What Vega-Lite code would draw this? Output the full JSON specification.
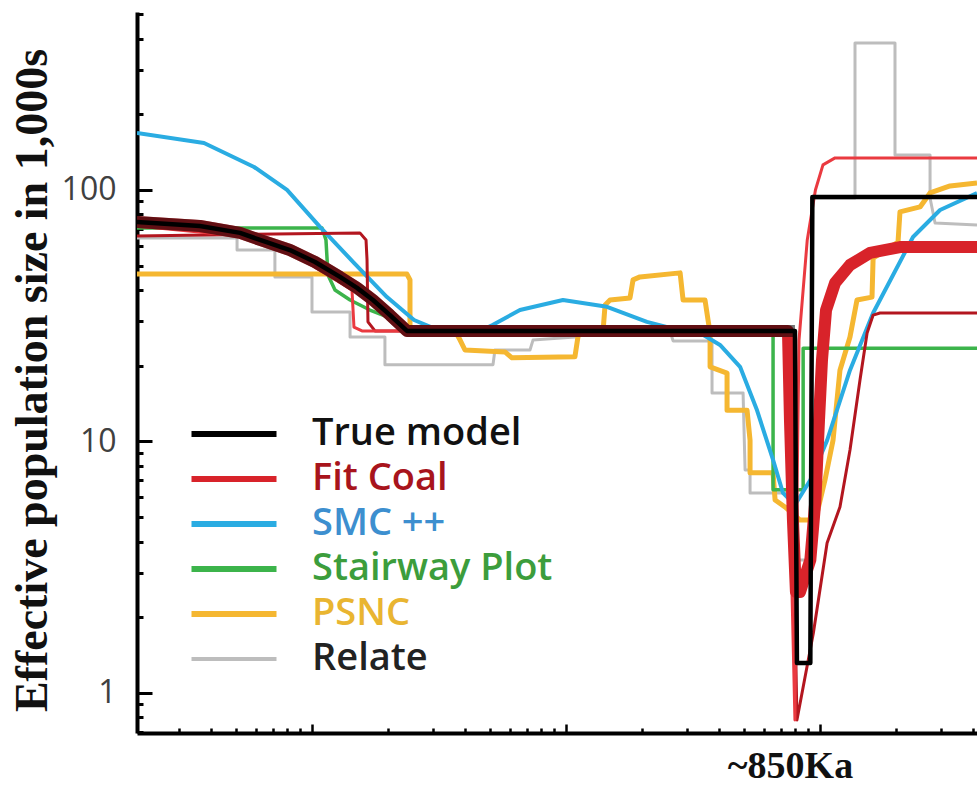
{
  "$schema": "https://vega.github.io/schema/vega-lite/v6.json",
  "width": 840,
  "height": 721,
  "autosize": {"type": "none"},
  "padding": {"left": 137, "top": 12, "right": 0, "bottom": 53},
  "background": "white",
  "config": {"view": {"stroke": null}, "axis": {"grid": false}},
  "data": {
    "values": [
      {"method": "True model", "run": 1, "step": 1, "years": 2047, "ne": 74.6},
      {"method": "True model", "run": 1, "step": 2, "years": 3622, "ne": 71.9},
      {"method": "True model", "run": 1, "step": 3, "years": 5210, "ne": 67.5},
      {"method": "True model", "run": 1, "step": 4, "years": 6241, "ne": 63.3},
      {"method": "True model", "run": 1, "step": 5, "years": 8188, "ne": 57.7},
      {"method": "True model", "run": 1, "step": 6, "years": 10280, "ne": 51.7},
      {"method": "True model", "run": 1, "step": 7, "years": 12890, "ne": 45.1},
      {"method": "True model", "run": 1, "step": 8, "years": 15040, "ne": 40.8},
      {"method": "True model", "run": 1, "step": 9, "years": 17380, "ne": 36.5},
      {"method": "True model", "run": 1, "step": 10, "years": 20280, "ne": 31.8},
      {"method": "True model", "run": 1, "step": 11, "years": 23650, "ne": 27.5},
      {"method": "True model", "run": 1, "step": 12, "years": 796600, "ne": 27.5},
      {"method": "True model", "run": 1, "step": 13, "years": 811100, "ne": 1.316},
      {"method": "True model", "run": 1, "step": 14, "years": 915800, "ne": 1.316},
      {"method": "True model", "run": 1, "step": 15, "years": 932900, "ne": 93.8},
      {"method": "True model", "run": 1, "step": 16, "years": 4149000, "ne": 93.8},

      {"method": "Fit Coal", "run": 1, "step": 1, "years": 2047, "ne": 74.6},
      {"method": "Fit Coal", "run": 1, "step": 2, "years": 3622, "ne": 71.9},
      {"method": "Fit Coal", "run": 1, "step": 3, "years": 5210, "ne": 67.5},
      {"method": "Fit Coal", "run": 1, "step": 4, "years": 6241, "ne": 63.3},
      {"method": "Fit Coal", "run": 1, "step": 5, "years": 8188, "ne": 57.7},
      {"method": "Fit Coal", "run": 1, "step": 6, "years": 10280, "ne": 51.7},
      {"method": "Fit Coal", "run": 1, "step": 7, "years": 12890, "ne": 45.1},
      {"method": "Fit Coal", "run": 1, "step": 8, "years": 15040, "ne": 40.8},
      {"method": "Fit Coal", "run": 1, "step": 9, "years": 17380, "ne": 36.5},
      {"method": "Fit Coal", "run": 1, "step": 10, "years": 20280, "ne": 31.8},
      {"method": "Fit Coal", "run": 1, "step": 11, "years": 23650, "ne": 27.5},
      {"method": "Fit Coal", "run": 1, "step": 12, "years": 747800, "ne": 27.5},
      {"method": "Fit Coal", "run": 1, "step": 13, "years": 761400, "ne": 12.2},
      {"method": "Fit Coal", "run": 1, "step": 14, "years": 782300, "ne": 4.87},
      {"method": "Fit Coal", "run": 1, "step": 15, "years": 803800, "ne": 2.52},
      {"method": "Fit Coal", "run": 1, "step": 16, "years": 834300, "ne": 2.52},
      {"method": "Fit Coal", "run": 1, "step": 17, "years": 915800, "ne": 3.38},
      {"method": "Fit Coal", "run": 1, "step": 18, "years": 959100, "ne": 5.85},
      {"method": "Fit Coal", "run": 1, "step": 19, "years": 990900, "ne": 12.2},
      {"method": "Fit Coal", "run": 1, "step": 20, "years": 1018000, "ne": 21.1},
      {"method": "Fit Coal", "run": 1, "step": 21, "years": 1056000, "ne": 33.3},
      {"method": "Fit Coal", "run": 1, "step": 22, "years": 1146000, "ne": 42.7},
      {"method": "Fit Coal", "run": 1, "step": 23, "years": 1312000, "ne": 50.3},
      {"method": "Fit Coal", "run": 1, "step": 24, "years": 1574000, "ne": 56.2},
      {"method": "Fit Coal", "run": 1, "step": 25, "years": 2064000, "ne": 59.3},
      {"method": "Fit Coal", "run": 1, "step": 26, "years": 4149000, "ne": 59.3},

      {"method": "Fit Coal", "run": 2, "step": 1, "years": 2047, "ne": 65.6},
      {"method": "Fit Coal", "run": 2, "step": 2, "years": 15440, "ne": 67.5},
      {"method": "Fit Coal", "run": 2, "step": 3, "years": 16320, "ne": 63.3},
      {"method": "Fit Coal", "run": 2, "step": 4, "years": 16470, "ne": 52.7},
      {"method": "Fit Coal", "run": 2, "step": 5, "years": 16610, "ne": 29.9},
      {"method": "Fit Coal", "run": 2, "step": 6, "years": 17700, "ne": 27.5},
      {"method": "Fit Coal", "run": 2, "step": 7, "years": 761400, "ne": 27.5},
      {"method": "Fit Coal", "run": 2, "step": 8, "years": 811100, "ne": 0.781},
      {"method": "Fit Coal", "run": 2, "step": 9, "years": 941400, "ne": 1.732},
      {"method": "Fit Coal", "run": 2, "step": 10, "years": 1066000, "ne": 3.95},
      {"method": "Fit Coal", "run": 2, "step": 11, "years": 1198000, "ne": 5.49},
      {"method": "Fit Coal", "run": 2, "step": 12, "years": 1312000, "ne": 9.25},
      {"method": "Fit Coal", "run": 2, "step": 13, "years": 1437000, "ne": 17.6},
      {"method": "Fit Coal", "run": 2, "step": 14, "years": 1532000, "ne": 27.0},
      {"method": "Fit Coal", "run": 2, "step": 15, "years": 1618000, "ne": 31.8},
      {"method": "Fit Coal", "run": 2, "step": 16, "years": 1722000, "ne": 32.4},
      {"method": "Fit Coal", "run": 2, "step": 17, "years": 4149000, "ne": 32.4},

      {"method": "Fit Coal", "run": 3, "step": 1, "years": 2047, "ne": 71.9},
      {"method": "Fit Coal", "run": 3, "step": 2, "years": 5210, "ne": 65.6},
      {"method": "Fit Coal", "run": 3, "step": 3, "years": 8970, "ne": 53.6},
      {"method": "Fit Coal", "run": 3, "step": 4, "years": 14370, "ne": 40.0},
      {"method": "Fit Coal", "run": 3, "step": 5, "years": 14630, "ne": 28.5},
      {"method": "Fit Coal", "run": 3, "step": 6, "years": 15730, "ne": 27.5},
      {"method": "Fit Coal", "run": 3, "step": 7, "years": 734400, "ne": 27.5},
      {"method": "Fit Coal", "run": 3, "step": 8, "years": 796600, "ne": 0.781},
      {"method": "Fit Coal", "run": 3, "step": 9, "years": 811100, "ne": 5.85},
      {"method": "Fit Coal", "run": 3, "step": 10, "years": 826500, "ne": 25.3},
      {"method": "Fit Coal", "run": 3, "step": 11, "years": 890700, "ne": 63.3},
      {"method": "Fit Coal", "run": 3, "step": 12, "years": 959100, "ne": 100},
      {"method": "Fit Coal", "run": 3, "step": 13, "years": 1027000, "ne": 125.8},
      {"method": "Fit Coal", "run": 3, "step": 14, "years": 1146000, "ne": 134.1},
      {"method": "Fit Coal", "run": 3, "step": 15, "years": 4149000, "ne": 134.1},

      {"method": "SMC ++", "run": 1, "step": 1, "years": 2047, "ne": 168.5},
      {"method": "SMC ++", "run": 1, "step": 2, "years": 3757, "ne": 153.8},
      {"method": "SMC ++", "run": 1, "step": 3, "years": 5916, "ne": 123.4},
      {"method": "SMC ++", "run": 1, "step": 4, "years": 7975, "ne": 100},
      {"method": "SMC ++", "run": 1, "step": 5, "years": 10751, "ne": 71.3},
      {"method": "SMC ++", "run": 1, "step": 6, "years": 14630, "ne": 51.3},
      {"method": "SMC ++", "run": 1, "step": 7, "years": 19730, "ne": 37.5},
      {"method": "SMC ++", "run": 1, "step": 8, "years": 25220, "ne": 30.4},
      {"method": "SMC ++", "run": 1, "step": 9, "years": 31920, "ne": 27.5},
      {"method": "SMC ++", "run": 1, "step": 10, "years": 45840, "ne": 27.5},
      {"method": "SMC ++", "run": 1, "step": 11, "years": 51600, "ne": 29.1},
      {"method": "SMC ++", "run": 1, "step": 12, "years": 65870, "ne": 33.3},
      {"method": "SMC ++", "run": 1, "step": 13, "years": 97270, "ne": 36.5},
      {"method": "SMC ++", "run": 1, "step": 14, "years": 145000, "ne": 34.3},
      {"method": "SMC ++", "run": 1, "step": 15, "years": 208300, "ne": 29.9},
      {"method": "SMC ++", "run": 1, "step": 16, "years": 273700, "ne": 27.8},
      {"method": "SMC ++", "run": 1, "step": 17, "years": 337300, "ne": 27.0},
      {"method": "SMC ++", "run": 1, "step": 18, "years": 403900, "ne": 24.2},
      {"method": "SMC ++", "run": 1, "step": 19, "years": 484400, "ne": 19.8},
      {"method": "SMC ++", "run": 1, "step": 20, "years": 565000, "ne": 13.3},
      {"method": "SMC ++", "run": 1, "step": 21, "years": 653300, "ne": 8.44},
      {"method": "SMC ++", "run": 1, "step": 22, "years": 714800, "ne": 6.24},
      {"method": "SMC ++", "run": 1, "step": 23, "years": 796600, "ne": 5.59},
      {"method": "SMC ++", "run": 1, "step": 24, "years": 915800, "ne": 7.03},
      {"method": "SMC ++", "run": 1, "step": 25, "years": 1066000, "ne": 10.1},
      {"method": "SMC ++", "run": 1, "step": 26, "years": 1312000, "ne": 19.2},
      {"method": "SMC ++", "run": 1, "step": 27, "years": 1618000, "ne": 32.4},
      {"method": "SMC ++", "run": 1, "step": 28, "years": 2323000, "ne": 65.0},
      {"method": "SMC ++", "run": 1, "step": 29, "years": 2968000, "ne": 83.2},
      {"method": "SMC ++", "run": 1, "step": 30, "years": 4149000, "ne": 97.3},

      {"method": "Stairway Plot", "run": 1, "step": 1, "years": 2047, "ne": 70.6},
      {"method": "Stairway Plot", "run": 1, "step": 2, "years": 10950, "ne": 70.6},
      {"method": "Stairway Plot", "run": 1, "step": 3, "years": 11350, "ne": 63.3},
      {"method": "Stairway Plot", "run": 1, "step": 4, "years": 11560, "ne": 45.9},
      {"method": "Stairway Plot", "run": 1, "step": 5, "years": 12320, "ne": 40.0},
      {"method": "Stairway Plot", "run": 1, "step": 6, "years": 14120, "ne": 36.5},
      {"method": "Stairway Plot", "run": 1, "step": 7, "years": 16910, "ne": 33.3},
      {"method": "Stairway Plot", "run": 1, "step": 8, "years": 20280, "ne": 31.0},
      {"method": "Stairway Plot", "run": 1, "step": 9, "years": 23650, "ne": 27.5},
      {"method": "Stairway Plot", "run": 1, "step": 10, "years": 653300, "ne": 27.5},
      {"method": "Stairway Plot", "run": 1, "step": 11, "years": 653300, "ne": 6.42},
      {"method": "Stairway Plot", "run": 1, "step": 12, "years": 858100, "ne": 6.42},
      {"method": "Stairway Plot", "run": 1, "step": 13, "years": 858100, "ne": 23.5},
      {"method": "Stairway Plot", "run": 1, "step": 14, "years": 4149000, "ne": 23.5},

      {"method": "PSNC", "run": 1, "step": 1, "years": 2047, "ne": 46.3},
      {"method": "PSNC", "run": 1, "step": 2, "years": 23650, "ne": 46.3},
      {"method": "PSNC", "run": 1, "step": 3, "years": 24310, "ne": 43.9},
      {"method": "PSNC", "run": 1, "step": 4, "years": 24310, "ne": 27.5},
      {"method": "PSNC", "run": 1, "step": 5, "years": 36560, "ne": 27.5},
      {"method": "PSNC", "run": 1, "step": 6, "years": 38290, "ne": 25.3},
      {"method": "PSNC", "run": 1, "step": 7, "years": 40020, "ne": 23.1},
      {"method": "PSNC", "run": 1, "step": 8, "years": 57500, "ne": 22.7},
      {"method": "PSNC", "run": 1, "step": 9, "years": 61260, "ne": 21.5},
      {"method": "PSNC", "run": 1, "step": 10, "years": 108400, "ne": 21.7},
      {"method": "PSNC", "run": 1, "step": 11, "years": 111400, "ne": 26.0},
      {"method": "PSNC", "run": 1, "step": 12, "years": 113500, "ne": 27.5},
      {"method": "PSNC", "run": 1, "step": 13, "years": 139900, "ne": 27.5},
      {"method": "PSNC", "run": 1, "step": 14, "years": 142500, "ne": 34.9},
      {"method": "PSNC", "run": 1, "step": 15, "years": 149000, "ne": 36.5},
      {"method": "PSNC", "run": 1, "step": 16, "years": 178600, "ne": 37.2},
      {"method": "PSNC", "run": 1, "step": 17, "years": 183600, "ne": 43.9},
      {"method": "PSNC", "run": 1, "step": 18, "years": 195500, "ne": 45.1},
      {"method": "PSNC", "run": 1, "step": 19, "years": 281300, "ne": 46.8},
      {"method": "PSNC", "run": 1, "step": 20, "years": 289000, "ne": 36.5},
      {"method": "PSNC", "run": 1, "step": 21, "years": 352600, "ne": 36.5},
      {"method": "PSNC", "run": 1, "step": 22, "years": 362400, "ne": 30.4},
      {"method": "PSNC", "run": 1, "step": 23, "years": 369100, "ne": 27.0},
      {"method": "PSNC", "run": 1, "step": 24, "years": 369100, "ne": 19.8},
      {"method": "PSNC", "run": 1, "step": 25, "years": 430500, "ne": 18.7},
      {"method": "PSNC", "run": 1, "step": 26, "years": 430500, "ne": 13.3},
      {"method": "PSNC", "run": 1, "step": 27, "years": 516100, "ne": 13.3},
      {"method": "PSNC", "run": 1, "step": 28, "years": 530300, "ne": 10.1},
      {"method": "PSNC", "run": 1, "step": 29, "years": 530300, "ne": 7.5},
      {"method": "PSNC", "run": 1, "step": 30, "years": 653300, "ne": 7.5},
      {"method": "PSNC", "run": 1, "step": 31, "years": 665400, "ne": 5.85},
      {"method": "PSNC", "run": 1, "step": 32, "years": 727800, "ne": 5.49},
      {"method": "PSNC", "run": 1, "step": 33, "years": 834300, "ne": 4.87},
      {"method": "PSNC", "run": 1, "step": 34, "years": 959100, "ne": 4.87},
      {"method": "PSNC", "run": 1, "step": 35, "years": 1046000, "ne": 7.03},
      {"method": "PSNC", "run": 1, "step": 36, "years": 1125000, "ne": 10.1},
      {"method": "PSNC", "run": 1, "step": 37, "years": 1198000, "ne": 19.2},
      {"method": "PSNC", "run": 1, "step": 38, "years": 1312000, "ne": 26.0},
      {"method": "PSNC", "run": 1, "step": 39, "years": 1398000, "ne": 36.5},
      {"method": "PSNC", "run": 1, "step": 40, "years": 1602000, "ne": 37.5},
      {"method": "PSNC", "run": 1, "step": 41, "years": 1618000, "ne": 53.6},
      {"method": "PSNC", "run": 1, "step": 42, "years": 2028000, "ne": 62.1},
      {"method": "PSNC", "run": 1, "step": 43, "years": 2064000, "ne": 81.8},
      {"method": "PSNC", "run": 1, "step": 44, "years": 2476000, "ne": 85.6},
      {"method": "PSNC", "run": 1, "step": 45, "years": 2711000, "ne": 97.3},
      {"method": "PSNC", "run": 1, "step": 46, "years": 3250000, "ne": 103.7},
      {"method": "PSNC", "run": 1, "step": 47, "years": 4149000, "ne": 106.6},

      {"method": "Relate", "run": 1, "step": 1, "years": 2047, "ne": 64.4},
      {"method": "Relate", "run": 1, "step": 2, "years": 5070, "ne": 64.4},
      {"method": "Relate", "run": 1, "step": 3, "years": 5070, "ne": 57.7},
      {"method": "Relate", "run": 1, "step": 4, "years": 7145, "ne": 57.7},
      {"method": "Relate", "run": 1, "step": 5, "years": 7145, "ne": 45.1},
      {"method": "Relate", "run": 1, "step": 6, "years": 10000, "ne": 45.1},
      {"method": "Relate", "run": 1, "step": 7, "years": 10000, "ne": 32.7},
      {"method": "Relate", "run": 1, "step": 8, "years": 14120, "ne": 32.7},
      {"method": "Relate", "run": 1, "step": 9, "years": 14120, "ne": 26.0},
      {"method": "Relate", "run": 1, "step": 10, "years": 19370, "ne": 26.0},
      {"method": "Relate", "run": 1, "step": 11, "years": 19370, "ne": 20.2},
      {"method": "Relate", "run": 1, "step": 12, "years": 51600, "ne": 20.2},
      {"method": "Relate", "run": 1, "step": 13, "years": 52500, "ne": 23.1},
      {"method": "Relate", "run": 1, "step": 14, "years": 72140, "ne": 23.1},
      {"method": "Relate", "run": 1, "step": 15, "years": 74140, "ne": 25.3},
      {"method": "Relate", "run": 1, "step": 16, "years": 108400, "ne": 26.0},
      {"method": "Relate", "run": 1, "step": 17, "years": 113500, "ne": 27.5},
      {"method": "Relate", "run": 1, "step": 18, "years": 256700, "ne": 27.5},
      {"method": "Relate", "run": 1, "step": 19, "years": 263900, "ne": 25.1},
      {"method": "Relate", "run": 1, "step": 20, "years": 375700, "ne": 25.1},
      {"method": "Relate", "run": 1, "step": 21, "years": 375700, "ne": 15.6},
      {"method": "Relate", "run": 1, "step": 22, "years": 497800, "ne": 15.6},
      {"method": "Relate", "run": 1, "step": 23, "years": 506900, "ne": 7.7},
      {"method": "Relate", "run": 1, "step": 24, "years": 530300, "ne": 7.7},
      {"method": "Relate", "run": 1, "step": 25, "years": 530300, "ne": 6.24},
      {"method": "Relate", "run": 1, "step": 26, "years": 761400, "ne": 6.24},
      {"method": "Relate", "run": 1, "step": 27, "years": 775300, "ne": 3.38},
      {"method": "Relate", "run": 1, "step": 28, "years": 915800, "ne": 3.38},
      {"method": "Relate", "run": 1, "step": 29, "years": 932900, "ne": 92.9},
      {"method": "Relate", "run": 1, "step": 30, "years": 1373000, "ne": 92.9},
      {"method": "Relate", "run": 1, "step": 31, "years": 1373000, "ne": 384},
      {"method": "Relate", "run": 1, "step": 32, "years": 1973000, "ne": 384},
      {"method": "Relate", "run": 1, "step": 33, "years": 1973000, "ne": 137.8},
      {"method": "Relate", "run": 1, "step": 34, "years": 2711000, "ne": 137.8},
      {"method": "Relate", "run": 1, "step": 35, "years": 2711000, "ne": 92.9},
      {"method": "Relate", "run": 1, "step": 36, "years": 2837000, "ne": 73.9},
      {"method": "Relate", "run": 1, "step": 37, "years": 4149000, "ne": 72.6}
    ]
  },
  "encoding": {
    "x": {
      "field": "years",
      "type": "quantitative",
      "scale": {"type": "log", "domain": [2047, 4149000], "nice": false},
      "axis": {
        "orient": "bottom",
        "ticks": false,
        "labels": false,
        "domainColor": "#000000",
        "domainWidth": 4,
        "title": "~850Ka",
        "titleFont": "Liberation Serif",
        "titleFontWeight": "bold",
        "titleFontSize": 38,
        "titleColor": "#111111",
        "titleX": 653,
        "titleY": 44,
        "titleAlign": "center",
        "titleBaseline": "alphabetic"
      }
    },
    "y": {
      "field": "ne",
      "type": "quantitative",
      "scale": {"type": "log", "domain": [0.693, 510], "nice": false},
      "axis": {
        "orient": "left",
        "values": [1, 10, 100],
        "format": "~g",
        "ticks": false,
        "labelOverlap": false,
        "labelFlush": false,
        "labelBound": false,
        "labelFont": "Open Sans",
        "labelFontSize": 32,
        "labelColor": "#404040",
        "labelPadding": 21,
        "domainColor": "#000000",
        "domainWidth": 4,
        "title": "Effective population size in 1,000s",
        "titleFont": "Liberation Serif",
        "titleFontWeight": "bold",
        "titleFontSize": 46,
        "titleColor": "#111111",
        "titleAngle": -90,
        "titleX": -105,
        "titleY": 368,
        "titleAlign": "center",
        "titleBaseline": "middle"
      }
    },
    "order": {"field": "step", "type": "quantitative"},
    "color": {
      "field": "method",
      "type": "nominal",
      "scale": {
        "domain": ["True model", "Fit Coal", "SMC ++", "Stairway Plot", "PSNC", "Relate"],
        "range": ["#000000", "#d8232a", "#2aace2", "#3cb44b", "#f5b731", "#bdbdbd"]
      },
      "legend": {
        "orient": "none",
        "legendX": 78,
        "legendY": 403,
        "title": null,
        "padding": 0,
        "symbolType": "stroke",
        "symbolSize": 400,
        "symbolStrokeWidth": 6,
        "labelFont": "Open Sans",
        "labelFontSize": 38,
        "labelFontWeight": 600,
        "labelOffset": 59,
        "labelLimit": 600,
        "rowPadding": 7,
        "encode": {
          "symbols": {"update": {"size": {"value": 7225}, "strokeWidth": {"signal": "datum.value === 'Relate' ? 4 : 6"}}},
          "labels": {"update": {"fill": {"signal": "datum.value === 'True model' ? '#111111' : datum.value === 'Fit Coal' ? '#a8141c' : datum.value === 'SMC ++' ? '#3d8fcf' : datum.value === 'Stairway Plot' ? '#3c9d3c' : datum.value === 'PSNC' ? '#e9b531' : '#222222'"}}}
        }
      }
    }
  },
  "layer": [
    {
      "layer": [
        {"transform": [{"filter": "datum.method === 'Relate'"}], "mark": {"type": "line", "strokeWidth": 3, "strokeJoin": "round", "clip": true}},
        {"transform": [{"filter": "datum.method === 'PSNC'"}], "mark": {"type": "line", "strokeWidth": 5, "strokeJoin": "round", "clip": true}},
        {"transform": [{"filter": "datum.method === 'Stairway Plot'"}], "mark": {"type": "line", "strokeWidth": 3.5, "strokeJoin": "round", "clip": true}},
        {"transform": [{"filter": "datum.method === 'SMC ++'"}], "mark": {"type": "line", "strokeWidth": 4, "strokeJoin": "round", "clip": true}},
        {"transform": [{"filter": "datum.method === 'Fit Coal' && datum.run === 2"}], "mark": {"type": "line", "strokeWidth": 3, "strokeJoin": "round", "clip": true}, "encoding": {"color": {"value": "#b3161f"}}},
        {"transform": [{"filter": "datum.method === 'Fit Coal' && datum.run === 3"}], "mark": {"type": "line", "strokeWidth": 3, "strokeJoin": "round", "clip": true}, "encoding": {"color": {"value": "#ea3a40"}}},
        {"transform": [{"filter": "datum.method === 'Fit Coal' && datum.run === 1"}], "mark": {"type": "line", "strokeWidth": 12, "strokeJoin": "round", "clip": true}},
        {"transform": [{"filter": "datum.method === 'True model' && datum.years <= 800000"}], "mark": {"type": "line", "strokeWidth": 12, "opacity": 0.55, "strokeJoin": "round", "clip": true}, "encoding": {"color": {"value": "#000000"}}}
      ]
    },
    {
      "transform": [{"filter": "datum.method === 'True model'"}],
      "mark": {"type": "line", "strokeWidth": 4.5, "strokeJoin": "round", "clip": true},
      "encoding": {
        "x": {
          "field": "years",
          "type": "quantitative",
          "scale": {"type": "log", "domain": [2047, 4149000], "nice": false},
          "axis": {
            "orient": "bottom",
            "offset": -9,
            "domain": false,
            "labels": false,
            "title": null,
            "values": [3000, 4000, 5000, 6000, 7000, 8000, 9000, 10000, 20000, 30000, 40000, 50000, 60000, 70000, 80000, 90000, 100000, 200000, 300000, 400000, 500000, 600000, 700000, 800000, 900000, 1000000, 2000000, 3000000, 4000000],
            "tickSize": 9,
            "tickWidth": 2.5,
            "tickColor": "#000000",
            "tickDash": {"condition": {"test": "datum.value === 10000 || datum.value === 100000 || datum.value === 1000000", "value": [20, 0]}, "value": [0, 4, 5, 100]}
          }
        },
        "y": {
          "field": "ne",
          "type": "quantitative",
          "scale": {"type": "log", "domain": [0.693, 510], "nice": false},
          "axis": {
            "orient": "left",
            "offset": -15,
            "domain": false,
            "labels": false,
            "title": null,
            "values": [0.7, 0.8, 0.9, 1, 2, 3, 4, 5, 6, 7, 8, 9, 10, 20, 30, 40, 50, 60, 70, 80, 90, 100, 200, 300, 400, 500],
            "tickSize": 15,
            "tickWidth": 3,
            "tickColor": "#000000",
            "tickDash": {"condition": {"test": "datum.value === 1 || datum.value === 10 || datum.value === 100", "value": [30, 0]}, "value": [0, 9, 6, 100]}
          }
        }
      }
    }
  ],
  "resolve": {"axis": {"x": "independent", "y": "independent"}}
}
